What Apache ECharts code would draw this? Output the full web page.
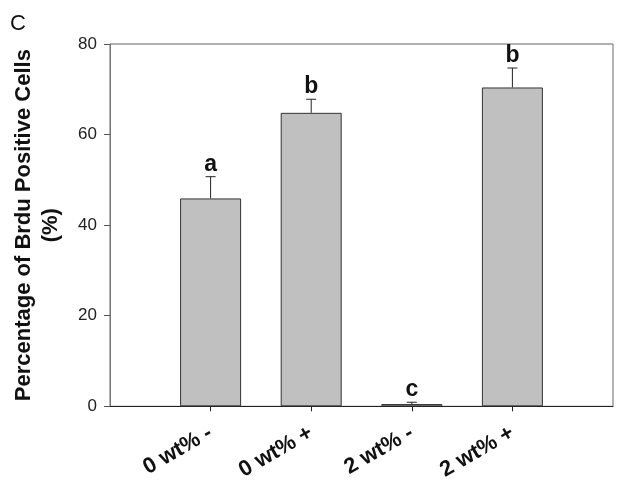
<!DOCTYPE html>
<html>
<head>
<meta charset="utf-8">
<script src="https://cdn.jsdelivr.net/npm/echarts@6/dist/echarts.min.js"></script>
<style>html,body{margin:0;padding:0;background:#fff}#c{width:624px;height:483px}</style>
</head>
<body>
<div id="c"></div>
<script>
var categories = ['0 wt% -', '0 wt% +', '2 wt% -', '2 wt% +'];
var means = [45.9, 64.8, 0.5, 70.4];
var errors = [4.8, 3.0, 0.4, 4.3];
var letters = ['a', 'b', 'c', 'b'];
var yTicks = [0, 20, 40, 60, 80];

var FONT = 'Liberation Sans, Arial, Helvetica, sans-serif';
var barData = means.map(function (v, i) { return [i + 1, v]; });
var errData = means.map(function (v, i) { return [i + 1, v, v + errors[i], i]; });

var chart = echarts.init(document.getElementById('c'), null, { renderer: 'canvas' });
chart.setOption({
  animation: false,
  backgroundColor: '#fff',
  title: {
    text: 'C', left: 5, top: 8,
    textStyle: { fontFamily: FONT, fontSize: 22, fontWeight: 'normal', color: '#111' }
  },
  grid: {
    left: 110, right: 11, top: 44, bottom: 75,
    show: true, borderColor: '#666', borderWidth: 1, backgroundColor: 'transparent'
  },
  xAxis: {
    type: 'value', min: 0, max: 5, interval: 1,
    splitLine: { show: false },
    axisLine: { show: true, lineStyle: { color: '#222', width: 1 } },
    axisTick: { show: true, customValues: [1, 2, 3, 4], length: 5, inside: false, lineStyle: { color: '#222' } },
    axisLabel: {
      customValues: [1, 2, 3, 4],
      rotate: 30, margin: 25,
      fontFamily: FONT, fontSize: 22, fontWeight: 'bold', color: '#111',
      formatter: function (v) { return categories[Math.round(v) - 1] || ''; }
    }
  },
  yAxis: {
    type: 'value', min: 0, max: 80, interval: 20,
    splitLine: { show: false },
    axisLine: { show: true, lineStyle: { color: '#777', width: 1 } },
    axisTick: { show: true, length: 6, lineStyle: { color: '#555' } },
    axisLabel: {
      margin: 13, fontFamily: FONT, fontSize: 17, color: '#222',
      formatter: function (v) { return yTicks.indexOf(v) >= 0 ? String(v) : ''; }
    },
    name: 'Percentage of Brdu Positive Cells\n(%)',
    nameLocation: 'middle', nameGap: 46, nameRotate: 90,
    nameTextStyle: { fontFamily: FONT, fontSize: 22, fontWeight: 'bold', color: '#111', lineHeight: 27 }
  },
  series: [
    {
      type: 'bar', data: barData, barWidth: 61,
      itemStyle: { color: '#c0c0c0', borderColor: '#333', borderWidth: 1 }
    },
    {
      type: 'custom', data: errData, z: 5,
      renderItem: function (params, api) {
        var x = api.value(0);
        var p0 = api.coord([x, api.value(1)]);
        var p1 = api.coord([x, api.value(2)]);
        var idx = api.value(3);
        var hw = 5;
        return {
          type: 'group',
          children: [
            { type: 'line', shape: { x1: p0[0], y1: p0[1], x2: p1[0], y2: p1[1] }, style: { stroke: '#222', lineWidth: 1 } },
            { type: 'line', shape: { x1: p1[0] - hw, y1: p1[1], x2: p1[0] + hw, y2: p1[1] }, style: { stroke: '#222', lineWidth: 1 } },
            { type: 'text', x: p1[0], y: p1[1] - 1,
              style: { text: letters[idx], textAlign: 'center', textVerticalAlign: 'bottom',
                       font: 'bold 23px ' + FONT, fill: '#111' } }
          ]
        };
      }
    }
  ]
});
</script>
</body>
</html>
